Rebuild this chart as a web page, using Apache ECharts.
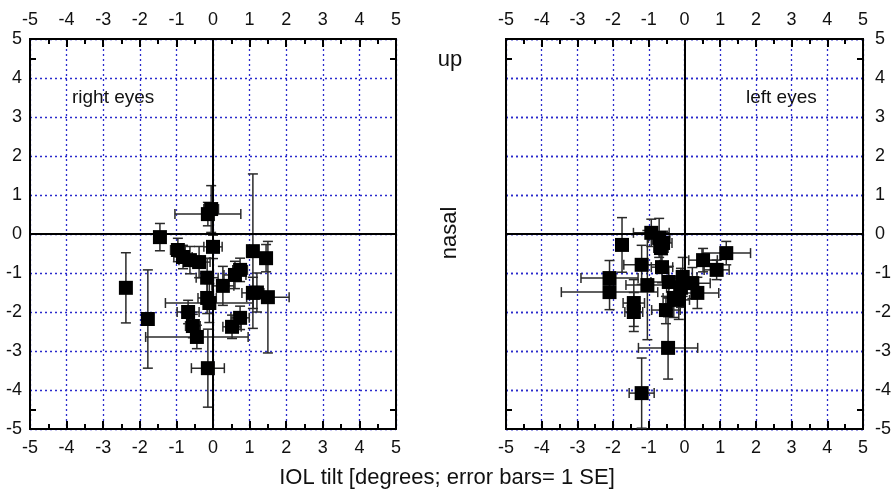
<!DOCTYPE html>
<html>
<head>
<meta charset="utf-8">
<script src="https://cdn.jsdelivr.net/npm/echarts@6/dist/echarts.min.js"></script>
<style>
html,body{margin:0;padding:0;background:#fff;}
#chart{width:894px;height:492px;}
</style>
</head>
<body>
<div id="chart"></div>
<script>
// ---- data ----
const tickValues = [-5, -4, -3, -2, -1, 0, 1, 2, 3, 4, 5];
const frameTickValues = [-4.5, 4.5];

// right eyes: x tilt, y tilt, x SE, y SE
const rightX    = [-2.38, -1.78, -1.45, -0.96, -0.82, -0.63, -0.38, -0.14, -0.05, 0.00, -0.16, 0.27, 0.60, 0.74, 1.09, 1.45, 1.09, 1.20, 1.50, -0.16, -0.10, -0.68, -0.55, -0.44, 0.74, 0.52, -0.14];
const rightY    = [-1.38, -2.18, -0.08, -0.41, -0.59, -0.67, -0.72, 0.51, 0.64, -0.33, -1.12, -1.33, -1.05, -0.92, -0.44, -0.62, -1.51, -1.50, -1.62, -1.64, -1.77, -2.00, -2.36, -2.64, -2.15, -2.38, -3.44];
const rightXErr = [0.10, 0.10, 0.15, 0.20, 0.25, 0.30, 0.30, 0.90, 0.20, 0.25, 0.30, 0.30, 0.30, 0.20, 0.10, 0.15, 0.30, 0.15, 0.58, 0.25, 1.20, 0.30, 0.20, 1.40, 0.25, 0.25, 0.45];
const rightYErr = [0.90, 1.26, 0.35, 0.30, 0.30, 0.35, 0.40, 0.30, 0.60, 0.30, 0.50, 0.50, 0.35, 0.30, 1.98, 0.35, 0.40, 0.50, 1.43, 0.40, 0.50, 0.30, 0.30, 0.30, 0.30, 0.30, 1.00];

// left eyes
const leftX    = [-1.75, -0.93, -0.71, -0.60, -0.66, -1.20, -0.63, 0.52, 1.17, 0.90, -2.10, -2.10, -1.04, -0.44, -0.05, 0.22, -0.10, 0.36, -0.30, -0.16, -0.52, -1.42, -1.42, -0.46, -1.20];
const leftY    = [-0.28, 0.03, -0.10, -0.23, -0.36, -0.79, -0.85, -0.67, -0.49, -0.92, -1.13, -1.49, -1.31, -1.23, -1.10, -1.26, -1.38, -1.51, -1.64, -1.69, -1.95, -1.77, -2.00, -2.92, -4.08];
const leftXErr = [0.15, 0.50, 0.30, 0.25, 0.20, 0.50, 0.30, 0.40, 0.68, 0.35, 0.80, 1.35, 0.60, 0.50, 0.40, 0.50, 0.40, 0.60, 0.30, 0.30, 0.40, 0.30, 0.25, 0.83, 0.35];
const leftYErr = [0.70, 0.35, 0.50, 0.30, 0.35, 0.50, 0.40, 0.30, 0.30, 0.25, 0.45, 0.45, 1.40, 0.40, 0.50, 0.40, 0.50, 0.40, 0.50, 0.50, 0.35, 0.60, 0.50, 0.80, 0.90];

// ---- build ----
function rows(xs, ys, exs, eys) {
  return xs.map((x, i) => [x, ys[i], exs[i], eys[i]]);
}
const rightData = rows(rightX, rightY, rightXErr, rightYErr);
const leftData = rows(leftX, leftY, leftXErr, leftYErr);

const FONT = 'Liberation Sans, Arial, sans-serif';
const labelStyle = {fontFamily: FONT, fontSize: 18, color: '#111'};
const gridLine = {show: true, lineStyle: {color: '#2a2acc', type: [2, 3], width: 1.3}};
const frameLine = {show: true, onZero: false, lineStyle: {color: '#000', width: 2}};

function xAxisDef(gridIndex, position, split) {
  return {
    type: 'value', gridIndex, position, min: -5, max: 5, interval: 1,
    axisLine: frameLine,
    axisTick: {show: true, inside: true, length: 8, lineStyle: {color: '#000', width: 2}},
    minorTick: {show: true, splitNumber: 2, length: 5, lineStyle: {color: '#000', width: 2}},
    axisLabel: Object.assign({show: true, margin: 10, customValues: tickValues}, labelStyle),
    splitLine: split ? gridLine : {show: false}
  };
}
// main y axis: labels + grid lines, no ticks
function yMain(gridIndex, position, showLabel) {
  return {
    type: 'value', gridIndex, position, min: -5, max: 5, interval: 1,
    axisLine: frameLine,
    axisTick: {show: false},
    axisLabel: Object.assign({show: showLabel, margin: position === 'right' ? 12 : 8, customValues: tickValues}, labelStyle),
    splitLine: gridLine
  };
}
// frame y axis: only small inside ticks
function yFrame(gridIndex, position) {
  return {
    type: 'value', gridIndex, position, min: -5, max: 5, interval: 1,
    axisLine: frameLine,
    axisTick: {show: true, inside: true, length: 6, lineStyle: {color: '#000', width: 2}, customValues: frameTickValues},
    axisLabel: {show: false},
    splitLine: {show: false}
  };
}

function errRender(params, api) {
  const x = api.value(0), y = api.value(1), ex = api.value(2), ey = api.value(3);
  const l = api.coord([x - ex, y]), r = api.coord([x + ex, y]);
  const t = api.coord([x, y + ey]), b = api.coord([x, y - ey]);
  const cap = 5;
  const style = {stroke: '#2a2a2a', lineWidth: 1.5};
  const ln = (x1, y1, x2, y2) => ({type: 'line', shape: {x1, y1, x2, y2}, style});
  return {type: 'group', children: [
    ln(l[0], l[1], r[0], r[1]),
    ln(l[0], l[1] - cap, l[0], l[1] + cap),
    ln(r[0], r[1] - cap, r[0], r[1] + cap),
    ln(t[0], t[1], b[0], b[1]),
    ln(t[0] - cap, t[1], t[0] + cap, t[1]),
    ln(b[0] - cap, b[1], b[0] + cap, b[1])
  ]};
}

function seriesFor(data, xi, yi) {
  return [
    {type: 'custom', xAxisIndex: xi, yAxisIndex: yi, data, encode: {x: 0, y: 1},
     renderItem: errRender, silent: true, z: 3,
     markLine: {silent: true, symbol: 'none', label: {show: false},
       lineStyle: {color: '#000', width: 2, type: 'solid'},
       data: [{xAxis: 0}, {yAxis: 0}]}},
    {type: 'scatter', xAxisIndex: xi, yAxisIndex: yi, data: data.map(d => [d[0], d[1]]),
     symbol: 'rect', symbolSize: 14, itemStyle: {color: '#000', opacity: 1}, z: 4, silent: true}
  ];
}

const chart = echarts.init(document.getElementById('chart'), null, {renderer: 'canvas'});
chart.setOption({
  animation: false,
  backgroundColor: '#fff',
  grid: [
    {left: 30, top: 39, width: 366, height: 390},
    {left: 506, top: 39, width: 366, height: 390}
  ],
  xAxis: [
    xAxisDef(0, 'bottom', true), xAxisDef(0, 'top', false),
    xAxisDef(1, 'bottom', true), xAxisDef(1, 'top', false)
  ],
  yAxis: [
    yMain(0, 'left', true), yFrame(0, 'right'), yFrame(0, 'left'),
    yMain(1, 'left', false), yFrame(1, 'left'), yFrame(1, 'right'),
    yMain(1, 'right', true)
  ],
  series: [].concat(
    seriesFor(rightData, 0, 0),
    seriesFor(leftData, 2, 3)
  ),
  graphic: [
    {type: 'text', left: 72, top: 88, style: {text: 'right eyes', font: '19px ' + FONT, fill: '#111'}},
    {type: 'text', left: 746, top: 88, style: {text: 'left eyes', font: '19px ' + FONT, fill: '#111'}},
    {type: 'text', x: 450, y: 60, style: {text: 'up', font: '22px ' + FONT, fill: '#111', align: 'center', verticalAlign: 'middle'}},
    {type: 'text', x: 450, y: 233, rotation: Math.PI / 2, style: {text: 'nasal', font: '22px ' + FONT, fill: '#111', align: 'center', verticalAlign: 'middle'}},
    {type: 'text', x: 447, y: 478, style: {text: 'IOL tilt [degrees; error bars= 1 SE]', font: '22px ' + FONT, fill: '#111', align: 'center', verticalAlign: 'middle'}}
  ]
});
</script>
</body>
</html>
